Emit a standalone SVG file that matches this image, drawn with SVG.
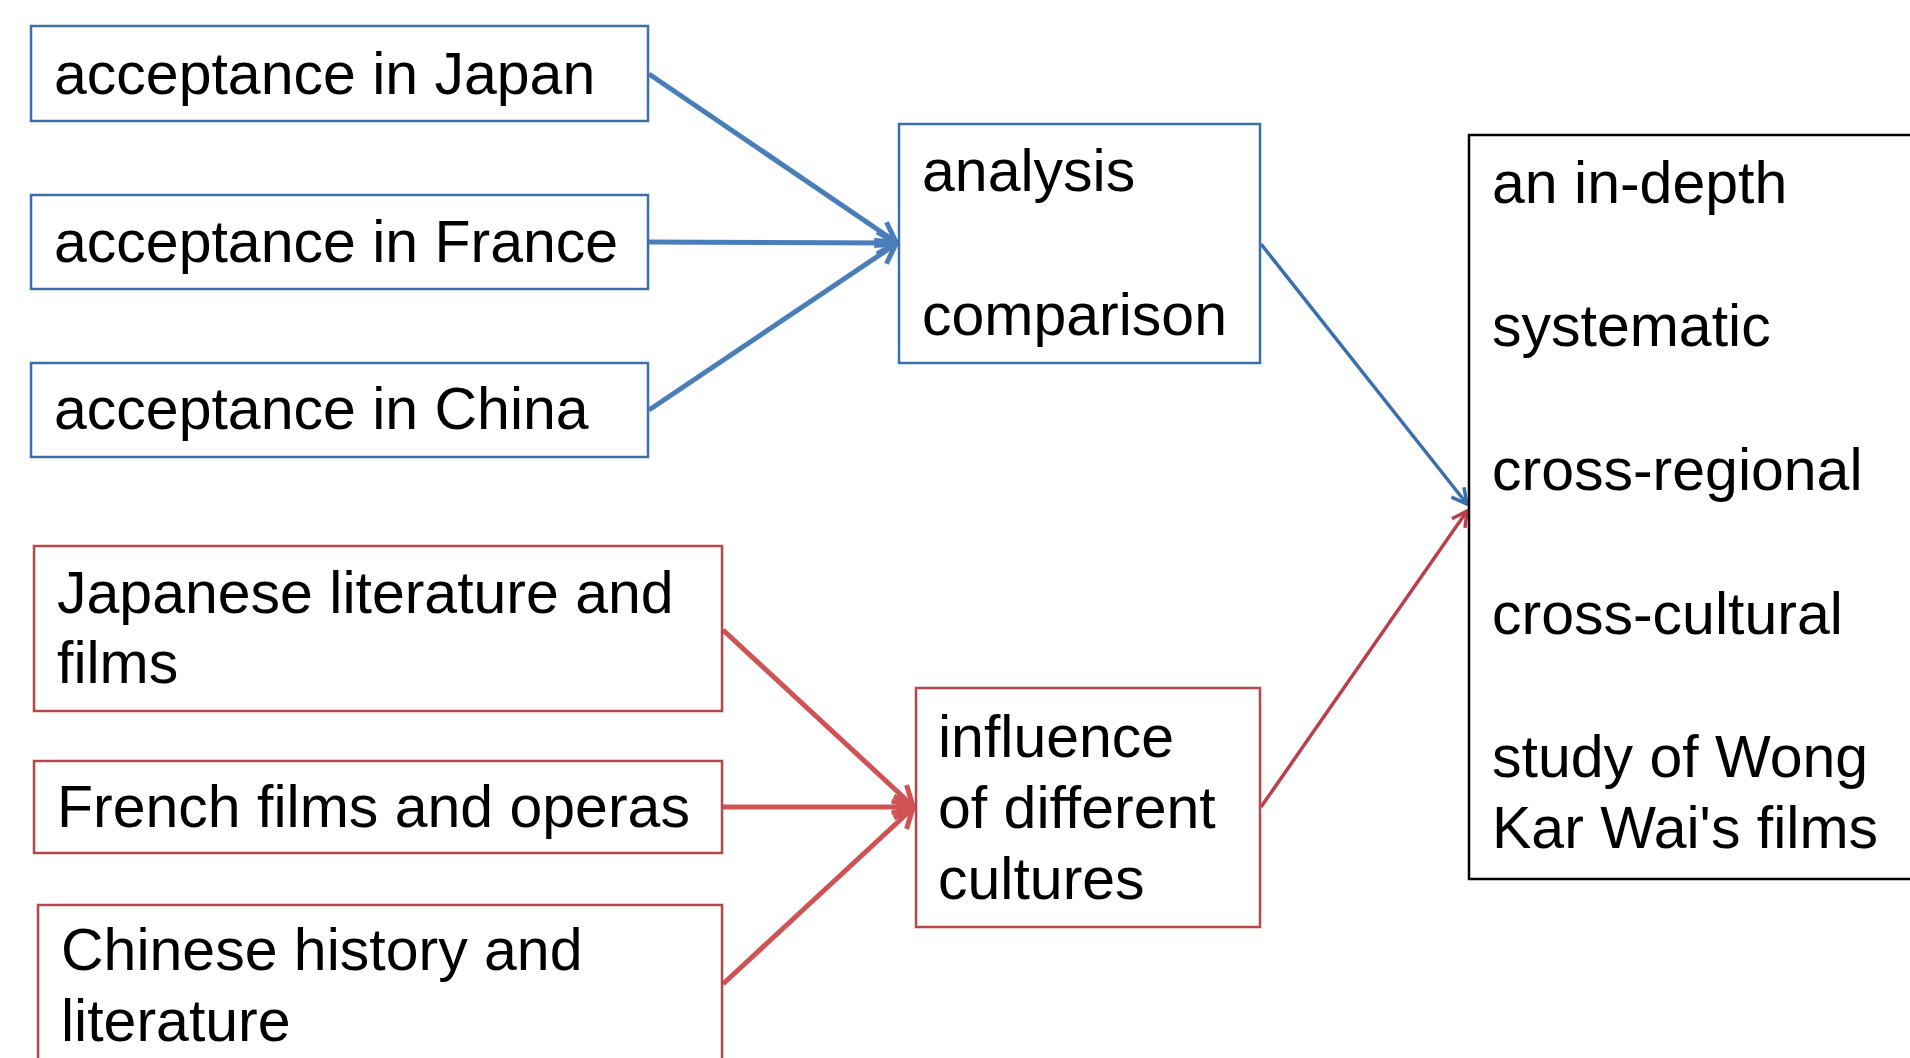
<svg xmlns="http://www.w3.org/2000/svg" width="1910" height="1058" viewBox="0 0 1910 1058">
<defs>
<style>
text{font-family:"Liberation Sans",Arial,sans-serif;font-size:59px;fill:#000}
.bb{fill:#fff;stroke:#3d6fa8;stroke-width:2.5}
.rb{fill:#fff;stroke:#b9474a;stroke-width:2.5}
.kb{fill:#fff;stroke:#000;stroke-width:2.5}
.bl{stroke:#4a7ebb;fill:none}
.rl{stroke:#cf5254;fill:none}
.thick{stroke-width:5}
</style>
<marker id="ab" markerUnits="userSpaceOnUse" markerWidth="30" markerHeight="30" refX="22" refY="13" orient="auto" viewBox="0 0 30 30">
<path d="M3,2 L22,13 L3,24" fill="none" stroke="#4a7ebb" stroke-width="5" stroke-linejoin="miter"/>
</marker>
<marker id="ar" markerUnits="userSpaceOnUse" markerWidth="30" markerHeight="30" refX="22" refY="13" orient="auto" viewBox="0 0 30 30">
<path d="M3,2 L22,13 L3,24" fill="none" stroke="#cf5254" stroke-width="5" stroke-linejoin="miter"/>
</marker>
<marker id="abt" markerUnits="userSpaceOnUse" markerWidth="22" markerHeight="22" refX="17" refY="10" orient="auto" viewBox="0 0 22 22">
<path d="M2,2 L17,10 L2,18" fill="none" stroke="#3a6fae" stroke-width="3.5"/>
</marker>
<marker id="art" markerUnits="userSpaceOnUse" markerWidth="22" markerHeight="22" refX="17" refY="10" orient="auto" viewBox="0 0 22 22">
<path d="M2,2 L17,10 L2,18" fill="none" stroke="#b9404a" stroke-width="3.5"/>
</marker>
</defs>
<rect width="1910" height="1058" fill="#fff"/>
<g id="connectors">
<line class="bl thick" x1="649" y1="74" x2="896" y2="242" marker-end="url(#ab)"/>
<line class="bl thick" x1="649" y1="242" x2="896" y2="243" marker-end="url(#ab)"/>
<line class="bl thick" x1="649" y1="410" x2="896" y2="244" marker-end="url(#ab)"/>
<line class="rl thick" x1="723" y1="630" x2="913" y2="806" marker-end="url(#ar)"/>
<line class="rl thick" x1="723" y1="807" x2="913" y2="807" marker-end="url(#ar)"/>
<line class="rl thick" x1="723" y1="984" x2="913" y2="808" marker-end="url(#ar)"/>
<line x1="1261" y1="244" x2="1467" y2="504" stroke="#3a6fae" stroke-width="3.5" marker-end="url(#abt)"/>
<line x1="1261" y1="807" x2="1467" y2="511" stroke="#b9404a" stroke-width="3.5" marker-end="url(#art)"/>
</g>
<g id="node-japan">
<rect class="bb" x="31" y="26" width="617" height="95"/>
<text x="54" y="94">acceptance in Japan</text>
</g>
<g id="node-france">
<rect class="bb" x="31" y="195" width="617" height="94"/>
<text x="54" y="262">acceptance in France</text>
</g>
<g id="node-china">
<rect class="bb" x="31" y="363" width="617" height="94"/>
<text x="54" y="429">acceptance in China</text>
</g>
<g id="node-analysis">
<rect class="bb" x="899" y="124" width="361" height="239"/>
<text x="922" y="191">analysis</text>
<text x="922" y="335">comparison</text>
</g>
<g id="node-japanese">
<rect class="rb" x="34" y="546" width="688" height="165"/>
<text x="57" y="613">Japanese literature and</text>
<text x="57" y="683">films</text>
</g>
<g id="node-french">
<rect class="rb" x="34" y="761" width="688" height="92"/>
<text x="57" y="827">French films and operas</text>
</g>
<g id="node-chinese">
<rect class="rb" x="38" y="905" width="684" height="170"/>
<text x="61" y="970">Chinese history and</text>
<text x="61" y="1041">literature</text>
</g>
<g id="node-influence">
<rect class="rb" x="916" y="688" width="344" height="239"/>
<text x="938" y="757">influence</text>
<text x="938" y="828">of different</text>
<text x="938" y="899">cultures</text>
</g>
<g id="node-result">
<rect class="kb" x="1469" y="135" width="460" height="744"/>
<text x="1492" y="203">an in-depth</text>
<text x="1492" y="346">systematic</text>
<text x="1492" y="490">cross-regional</text>
<text x="1492" y="634">cross-cultural</text>
<text x="1492" y="777">study of Wong</text>
<text x="1492" y="848">Kar Wai's films</text>
</g>
</svg>
